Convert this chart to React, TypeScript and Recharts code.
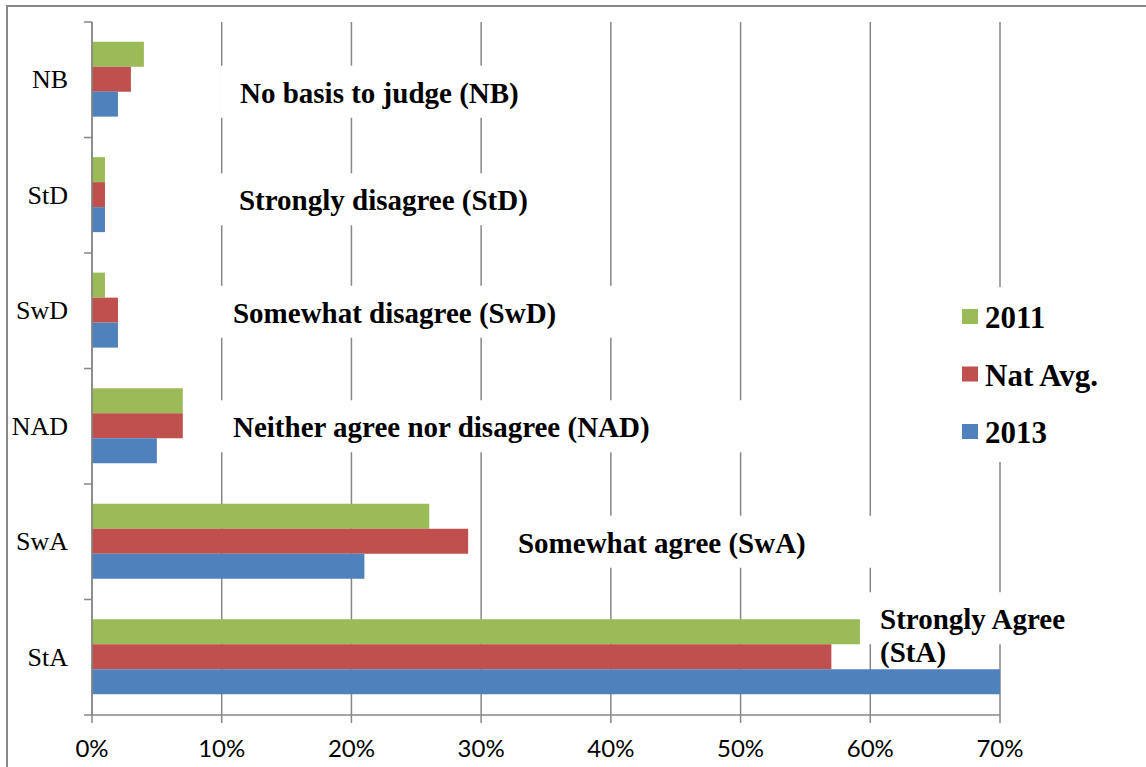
import React from "react";
import { BarChart, Bar, XAxis, YAxis, CartesianGrid, ReferenceDot } from "recharts";

// categories, top to bottom
const categories = ["NB", "StD", "SwD", "NAD", "SwA", "StA"];
const values2011 = [4, 1, 1, 7, 26, 59.2];
const valuesNatAvg = [3, 1, 2, 7, 29, 57];
const values2013 = [2, 1, 2, 5, 21, 70];
const xTicks = [0, 10, 20, 30, 40, 50, 60, 70];

const annotationCats = ["NB", "StD", "SwD", "NAD", "SwA", "StA"];
const annotationTexts = [
  ["No basis to judge (NB)"],
  ["Strongly disagree (StD)"],
  ["Somewhat disagree (SwD)"],
  ["Neither agree nor disagree (NAD)"],
  ["Somewhat agree (SwA)"],
  ["Strongly Agree", "(StA)"],
];
// where each label text starts, in % on the x axis
const annotationX = [11.41, 11.33, 10.87, 10.87, 32.84, 60.75];

const series = [
  { key: "y2011", name: "2011", color: "#9BBB59" },
  { key: "nat", name: "Nat Avg.", color: "#C0504D" },
  { key: "y2013", name: "2013", color: "#4F81BD" },
];

const data = categories.map((cat, i) => ({
  cat,
  y2011: values2011[i],
  nat: valuesNatAvg[i],
  y2013: values2013[i],
}));

// label box layout: baseline offset from band centre, box width
const annLayout = [
  { dy: 23, w: 320 },
  { dy: 15, w: 335 },
  { dy: 12, w: 410 },
  { dy: 11, w: 545 },
  { dy: 11, w: 390 },
  { dy: -28, w: 230 },
];

const GRID = "#878787";
const SERIF = "'Liberation Serif', 'Times New Roman', serif";

const CategoryTick = (props: any) => {
  const { x, y, payload, index, visibleTicksCount } = props;
  const off = payload.offset ?? 0;
  return (
    <g>
      <line x1={x + 16} x2={x + 24} y1={y - off} y2={y - off} stroke={GRID} strokeWidth={1.5} />
      {index === visibleTicksCount - 1 && (
        <line x1={x + 16} x2={x + 24} y1={y + off} y2={y + off} stroke={GRID} strokeWidth={1.5} />
      )}
      <text x={x} y={y} dy="0.33em" textAnchor="end" fontFamily={SERIF} fontSize={26} fill="#000">
        {payload.value}
      </text>
    </g>
  );
};

const makeLabelShape = (i: number) => (props: any) => {
  const { cx, cy } = props;
  const { dy, w } = annLayout[i];
  const base = cy + dy;
  return (
    <g>
      <rect x={cx - 19} y={base - 37} width={w} height={52} fill="#fff" />
      {annotationTexts[i].map((t, j) => (
        <text
          key={j}
          x={cx}
          y={base + j * 33}
          fontFamily={SERIF}
          fontWeight="bold"
          fontSize={29}
          fill="#000"
        >
          {t}
        </text>
      ))}
    </g>
  );
};

export default function App() {
  return (
    <div style={{ position: "absolute", left: 0, top: 0, width: 1146, height: 767, overflow: "hidden", background: "#fff" }}>
      <div
        style={{
          position: "absolute",
          left: 6,
          top: 5,
          width: 2000,
          height: 2000,
          borderLeft: `2px solid ${GRID}`,
          borderTop: `2px solid ${GRID}`,
        }}
      />
      <div style={{ position: "absolute", left: 0, top: 0 }}>
        <BarChart
          width={1146}
          height={767}
          data={data}
          layout="vertical"
          margin={{ top: 22, right: 146, bottom: 0, left: 0 }}
          barCategoryGap="17%"
          barGap={0}
        >
          <CartesianGrid horizontal={false} stroke={GRID} strokeWidth={1.5} />
          <XAxis
            type="number"
            domain={[0, 70]}
            ticks={xTicks}
            height={52}
            tickFormatter={(v) => `${v}%`}
            stroke={GRID}
            strokeWidth={1.5}
            tickSize={8}
            tickMargin={17}
            tick={{ fontFamily: "Lato, 'Liberation Sans', sans-serif", fontSize: 24, fill: "#000" }}
          />
          <YAxis
            type="category"
            dataKey="cat"
            width={92}
            stroke={GRID}
            strokeWidth={1.5}
            tickLine={false}
            tickSize={8}
            tickMargin={16}
            tick={<CategoryTick />}
          />
          {series.map((s) => (
            <Bar key={s.key} dataKey={s.key} name={s.name} fill={s.color} isAnimationActive={false} />
          ))}
          {annotationCats.map((c, i) => (
            <ReferenceDot
              key={c}
              x={annotationX[i]}
              y={c}
              r={0}
              ifOverflow="visible"
              shape={makeLabelShape(i)}
            />
          ))}
        </BarChart>
      </div>
      <svg style={{ position: "absolute", left: 950, top: 287 }} width={170} height={175}>
        <rect x={0} y={0} width={170} height={175} fill="#fff" />
        {series.map((s, i) => (
          <g key={s.key}>
            <rect x={12} y={22 + i * 57.5} width={16} height={15} fill={s.color} />
            <text x={35} y={41 + i * 57.5} fontFamily={SERIF} fontWeight="bold" fontSize={31} fill="#000">
              {s.name}
            </text>
          </g>
        ))}
      </svg>
    </div>
  );
}
